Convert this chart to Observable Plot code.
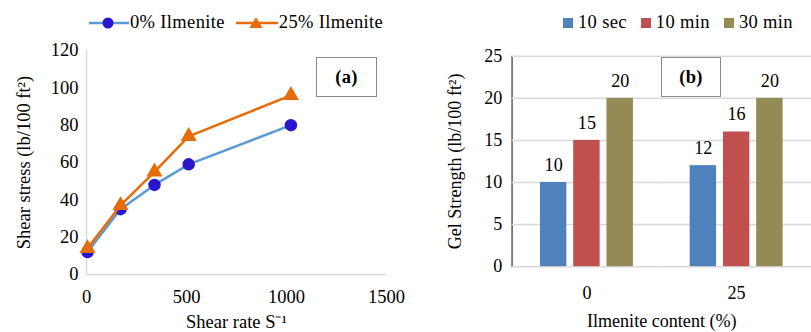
<!DOCTYPE html>
<html>
<head>
<meta charset="utf-8">
<script src="https://cdn.jsdelivr.net/npm/d3@7"></script>
<script src="https://cdn.jsdelivr.net/npm/@observablehq/plot@0.6"></script>
<style>
  html, body { margin: 0; padding: 0; background: #fff; }
  #root { position: relative; width: 811px; height: 332px; overflow: hidden; font-family: 'Liberation Serif', 'Times New Roman', serif; color: #000; }
  #root svg, #root svg text { font-family: 'Liberation Serif', 'Times New Roman', serif !important; }
  #left, #right { position: absolute; top: 0; }
  #left { left: 0; }
  #right { left: 400px; }
  .legend { position: absolute; top: 12px; display: flex; align-items: center; font-family: 'Liberation Serif', serif; font-size: 18.5px; letter-spacing: 0.35px; white-space: nowrap; }
  .legend .item { display: flex; align-items: center; }
  .legend svg { display: block; }
  .tagbox { position: absolute; border: 1.5px solid #8c8c8c; background: #fff; font-family: 'Liberation Serif', serif; font-weight: bold; font-size: 18.5px; letter-spacing: 0.3px; display: flex; align-items: center; justify-content: center; box-sizing: border-box; }
</style>
</head>
<body>
<div id="root">
  <div id="left"></div>
  <div id="right"></div>
</div>
<script>
// ---- Panel (a) data ----
const shearRate = [5.1, 170, 340, 511, 1022];
const stress0 = [12, 35, 48, 59, 80];
const stress25 = [14, 37, 55, 74, 96];
const seriesA = ["0% Ilmenite", "25% Ilmenite"];
const xTicksA = [0, 500, 1000, 1500];
const yTicksA = [0, 20, 40, 60, 80, 100, 120];

// ---- Panel (b) data ----
const contents = ["0", "25"];
const gelTimes = ["10 sec", "10 min", "30 min"];
const gel10sec = [10, 12];
const gel10min = [15, 16];
const gel30min = [20, 20];
const yTicksB = [0, 5, 10, 15, 20, 25];

const lineBlue = "#5B9BD5";
const markerBlue = "#2B16CF";
const orange = "#E46C0A";
const barColors = ["#4F81BD", "#C0504D", "#948A54"];
const axisGrey = "#d9d9d9";
const fontStack = "'Liberation Serif', 'Times New Roman', serif";

const dataA = [];
shearRate.forEach((x, i) => {
  dataA.push({series: seriesA[0], x, y: stress0[i]});
  dataA.push({series: seriesA[1], x, y: stress25[i]});
});
const d0 = dataA.filter(d => d.series === seriesA[0]);
const d25 = dataA.filter(d => d.series === seriesA[1]);

const plotA = Plot.plot({
  width: 400, height: 332,
  marginLeft: 86, marginRight: 14, marginTop: 50, marginBottom: 58,
  style: {fontFamily: fontStack, fontSize: "18.5px", color: "#000", background: "transparent", overflow: "visible"},
  x: {domain: [0, 1500], ticks: xTicksA, tickSize: 0, tickPadding: 15, tickFormat: d3.format("d"),
      label: "Shear rate S\u207B\u00B9", labelAnchor: "center", labelOffset: 53, labelArrow: "none"},
  y: {domain: [0, 120], ticks: yTicksA, tickSize: 0, tickPadding: 8, tickFormat: d3.format("d"),
      label: "Shear stress (lb/100 ft\u00B2)", labelAnchor: "center", labelOffset: 70, labelArrow: "none"},
  marks: [
    Plot.ruleY([0], {stroke: axisGrey, strokeWidth: 1.5}),
    Plot.ruleX([0], {stroke: axisGrey, strokeWidth: 1.5}),
    Plot.line(d0, {x: "x", y: "y", stroke: lineBlue, strokeWidth: 2.5}),
    Plot.dot(d0, {x: "x", y: "y", r: 5.5, fill: markerBlue, stroke: markerBlue, symbol: "circle"}),
    Plot.line(d25, {x: "x", y: "y", stroke: orange, strokeWidth: 2.5}),
    Plot.dot(d25, {x: "x", y: "y", r: 5, fill: orange, stroke: orange, symbol: "triangle"})
  ]
});
document.getElementById("left").appendChild(plotA);

const dataB = [];
contents.forEach((c, i) => {
  [gel10sec, gel10min, gel30min].forEach((arr, j) => {
    dataB.push({content: c, time: gelTimes[j], value: arr[i]});
  });
});

const plotB = Plot.plot({
  width: 420, height: 332,
  marginLeft: 114, marginRight: 0, marginTop: 57, marginBottom: 60,
  style: {fontFamily: fontStack, fontSize: "18.5px", color: "#000", background: "transparent", overflow: "visible"},
  fx: {domain: contents, padding: 0, tickSize: 0, tickPadding: 20,
       label: "Ilmenite content (%)", labelAnchor: "center", labelOffset: 62, labelArrow: "none"},
  x: {domain: gelTimes, axis: null, paddingInner: 0.2, paddingOuter: 0.85},
  y: {domain: [0, 25], ticks: yTicksB, tickSize: 0, tickPadding: 10, tickFormat: d3.format("d"),
      label: "Gel Strength (lb/100 ft\u00B2)", labelAnchor: "center", labelOffset: 65, labelArrow: "none", line: true},
  color: {domain: gelTimes, range: barColors},
  marks: [
    Plot.gridY(yTicksB, {stroke: axisGrey, strokeOpacity: 1, strokeWidth: 1.5}),
    Plot.barY(dataB, {fx: "content", x: "time", y: "value", fill: "time"}),
    Plot.text(dataB, {fx: "content", x: "time", y: "value", text: d => String(d.value), lineAnchor: "bottom", dy: -12, fontSize: 18.5})
  ]
});
document.getElementById("right").appendChild(plotB);

// ---- Legends (HTML, above the plots) ----
const root = document.getElementById("root");
const legA = document.createElement("div");
legA.className = "legend";
legA.style.left = "89px";
legA.innerHTML = `
  <div class="item"><svg width="40" height="14"><line x1="0" y1="7" x2="40" y2="7" stroke="${lineBlue}" stroke-width="2.5"/><circle cx="19" cy="7" r="5.5" fill="${markerBlue}"/></svg><span style="margin-left:1px">${seriesA[0]}</span></div>
  <div class="item" style="margin-left:11px"><svg width="42" height="14"><line x1="0" y1="7" x2="42" y2="7" stroke="${orange}" stroke-width="2.5"/><path d="M20,1 L26.5,12 L13.5,12 Z" fill="${orange}"/></svg><span style="margin-left:1px">${seriesA[1]}</span></div>`;
root.appendChild(legA);

const legB = document.createElement("div");
legB.className = "legend";
legB.style.left = "563px";
legB.innerHTML = gelTimes.map((t, i) =>
  `<div class="item" style="margin-left:${i ? 14 : 0}px"><svg width="10" height="10"><rect width="10" height="10" fill="${barColors[i]}"/></svg><span style="margin-left:5px">${t}</span></div>`
).join("");
root.appendChild(legB);

// ---- Panel tags ----
function tag(text, left, top, w, h) {
  const d = document.createElement("div");
  d.className = "tagbox";
  Object.assign(d.style, {left: left + "px", top: top + "px", width: w + "px", height: h + "px"});
  d.textContent = text;
  root.appendChild(d);
}
tag("(a)", 316, 57, 61, 40);
tag("(b)", 661, 57, 60, 40);
</script>
</body>
</html>
